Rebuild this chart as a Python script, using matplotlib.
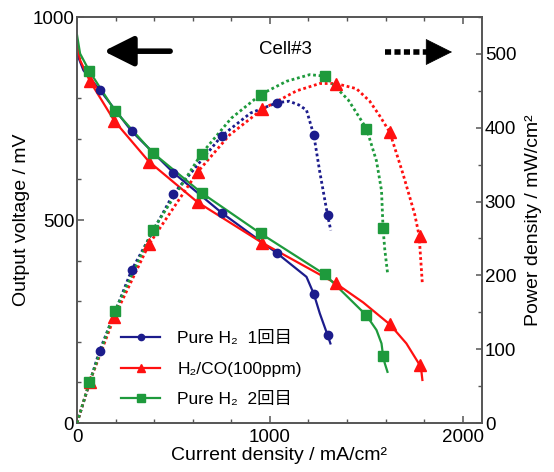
import numpy as np
import matplotlib
matplotlib.use("Agg")
import matplotlib.pyplot as plt
from matplotlib.ticker import MultipleLocator

# ==============================
# FONTS
# ==============================
plt.rcParams['font.family'] = ['Liberation Sans', 'Noto Sans CJK JP', 'DejaVu Sans']

# ==============================
# DATA  (I: mA/cm2, V: mV, P: mW/cm2)
# ==============================
labels = ["Pure H\u2082  1回目", "H\u2082/CO(100ppm)", "Pure H\u2082  2回目"]

# measured points (markers)
i_h2_1 = [119, 283, 499, 750, 1038, 1228, 1299]
v_h2_1 = [820, 719, 617, 518, 418, 318, 217]
p_h2_1 = [97, 207, 310, 389, 434, 390, 282]

i_co = [66, 194, 373, 625, 960, 1342, 1622, 1777]
v_co = [843, 744, 644, 544, 444, 344, 243, 143]
p_co = [56, 144, 242, 340, 425, 460, 394, 254]

i_h2_2 = [64, 197, 392, 646, 952, 1285, 1501, 1587]
v_h2_2 = [867, 769, 666, 567, 467, 366, 265, 166]
p_h2_2 = [55, 152, 261, 365, 445, 470, 399, 264]

# fitted curves (lines)
iv_h2_1 = [0, 33, 119, 283, 499, 750, 1038, 1190, 1228, 1259, 1299, 1314]
vv_h2_1 = [910, 869, 820, 719, 617, 518, 418, 360, 318, 270, 217, 196]
ip_h2_1 = [0, 116, 283, 499, 750, 900, 1038, 1100, 1150, 1190, 1228, 1259, 1299, 1316]
pp_h2_1 = [0, 97, 207, 310, 389, 420, 434, 436, 431, 424, 390, 340, 282, 261]

iv_co = [0, 16, 66, 194, 373, 625, 960, 1342, 1484, 1622, 1708, 1777, 1785, 1791]
vv_co = [933, 894, 843, 744, 644, 544, 444, 344, 297, 243, 196, 143, 131, 106]
ip_co = [0, 66, 194, 373, 625, 790, 960, 1138, 1259, 1342, 1449, 1518, 1570, 1622, 1691, 1751, 1774, 1791]
pp_co = [0, 56, 144, 242, 340, 390, 425, 450, 460, 460, 453, 436, 416, 394, 337, 283, 254, 188]

iv_h2_2 = [0, 16, 64, 197, 392, 646, 952, 1285, 1501, 1553, 1579, 1587, 1596, 1610]
vv_h2_2 = [956, 910, 867, 769, 666, 567, 467, 366, 265, 229, 196, 166, 147, 126]
ip_h2_2 = [0, 64, 197, 392, 646, 800, 952, 1086, 1207, 1285, 1406, 1501, 1553, 1579, 1587, 1596, 1610]
pp_h2_2 = [0, 55, 152, 261, 365, 413, 445, 463, 472, 470, 438, 399, 355, 315, 264, 235, 204]

colors = ['#1c1c8c', '#ff1010', '#1e9a3c']
markers = ['o', '^', 's']
msizes = [6, 8.5, 6.8]

# ==============================
# PLOT
# ==============================
fig = plt.figure(figsize=(5.54, 4.72), dpi=100)
ax = fig.add_axes([0.139, 0.1038, 0.731, 0.860])
ax2 = ax.twinx()

series = [
    (i_h2_1, v_h2_1, p_h2_1, iv_h2_1, vv_h2_1, ip_h2_1, pp_h2_1),
    (i_co, v_co, p_co, iv_co, vv_co, ip_co, pp_co),
    (i_h2_2, v_h2_2, p_h2_2, iv_h2_2, vv_h2_2, ip_h2_2, pp_h2_2),
]

handles = []
for k, (im, vm, pm, iv, vv, ip, pp) in enumerate(series):
    c = colors[k]
    ax.plot(iv, vv, color=c, lw=1.6, zorder=3)
    ax.plot(im, vm, ls='none', marker=markers[k], ms=msizes[k], color=c, zorder=4)
    ax2.plot(ip, pp, color=c, lw=2.0, ls=(0, (1, 1)), zorder=3)
    ax2.plot(im, pm, ls='none', marker=markers[k], ms=msizes[k], color=c, zorder=4)
    h, = ax.plot([], [], color=c, lw=1.6, marker=markers[k], ms=msizes[k] * 0.75)
    handles.append(h)

# axes limits and ticks
ax.set_xlim(0, 2100)
ax.set_ylim(0, 1000)
ax2.set_ylim(0, 550)
ax.xaxis.set_major_locator(MultipleLocator(1000))
ax.xaxis.set_minor_locator(MultipleLocator(200))
ax.yaxis.set_major_locator(MultipleLocator(500))
ax.yaxis.set_minor_locator(MultipleLocator(100))
ax2.yaxis.set_major_locator(MultipleLocator(100))
ax2.yaxis.set_minor_locator(MultipleLocator(50))

for a in (ax, ax2):
    for s in a.spines.values():
        s.set_color('#555555')
        s.set_linewidth(1.2)
ax.tick_params(which='both', direction='in', top=True, right=False, color='#555555', labelsize=13.5)
ax.tick_params(axis='y', pad=2)
ax.tick_params(axis='x', pad=4)
ax.tick_params(which='major', length=5, width=1.1)
ax.tick_params(which='minor', length=3, width=1.0)
ax2.tick_params(which='both', direction='in', color='#555555', labelsize=13.5, pad=2)
ax2.tick_params(which='major', length=4, width=1.1)
ax2.tick_params(which='minor', length=3, width=1.0)

ax.set_xlabel("Current density / mA/cm²", fontsize=14, labelpad=1)
ax.set_ylabel("Output voltage / mV", fontsize=14, labelpad=2)
ax2.set_ylabel("Power density / mW/cm²", fontsize=14, labelpad=6)

# cell name and axis arrows
ax.text(0.514, 0.919, "Cell#3", transform=ax.transAxes, fontsize=13.5,
        ha='center', va='center')
ax.annotate("", xy=(0.066, 0.916), xytext=(0.230, 0.916), xycoords='axes fraction',
            arrowprops=dict(arrowstyle='-|>,head_length=0.9,head_width=0.45',
                            lw=4, color='black', mutation_scale=20, shrinkA=0, shrinkB=0))
ax.plot([0.760, 0.875], [0.914, 0.914], transform=ax.transAxes, color='black',
        lw=4, ls=(0, (1.1, 0.6)), solid_capstyle='butt')
ax.annotate("", xy=(0.926, 0.914), xytext=(0.870, 0.914), xycoords='axes fraction',
            arrowprops=dict(arrowstyle='-|>,head_length=0.9,head_width=0.45',
                            lw=0.5, color='black', mutation_scale=20, shrinkA=0, shrinkB=0))

ax.legend(handles, labels, loc='lower left', bbox_to_anchor=(0.07, 0.0),
          frameon=False, fontsize=12.5, handlelength=2.25, handletextpad=1.0,
          labelspacing=0.9)

fig.savefig("out.png", dpi=100)
